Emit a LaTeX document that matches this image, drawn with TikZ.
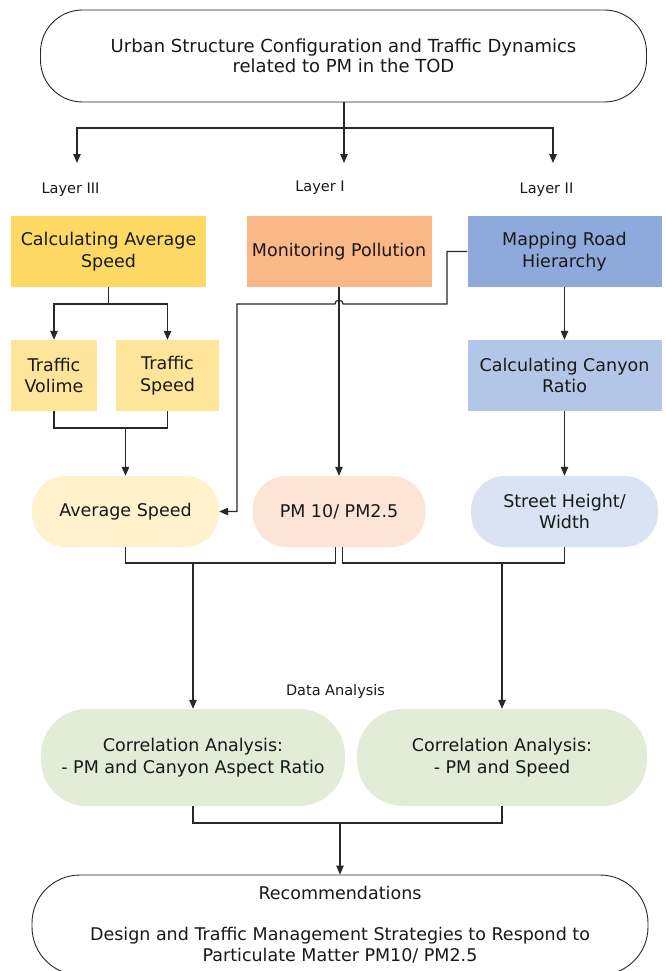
\documentclass[tikz,border=0pt]{standalone}
\usepackage{fontspec}
\setmainfont{DejaVu Sans}
\usetikzlibrary{arrows.meta,calc}
\definecolor{lineC}{RGB}{40,40,40}
\definecolor{txtC}{RGB}{25,25,25}
\definecolor{goldA}{RGB}{255,217,102}
\definecolor{goldB}{RGB}{255,229,153}
\definecolor{goldC}{RGB}{255,242,204}
\definecolor{orA}{RGB}{250,183,135}
\definecolor{orC}{RGB}{252,228,214}
\definecolor{blA}{RGB}{142,169,219}
\definecolor{blB}{RGB}{180,198,231}
\definecolor{blC}{RGB}{218,227,243}
\definecolor{grC}{RGB}{226,236,214}
\tikzset{
  box/.style={rectangle, align=center, inner sep=0pt, text=txtC,
    font=\fontsize{17.5}{21.5}\selectfont},
  rbox/.style={box, draw=none},
  pill/.style={box, draw=none, rounded corners=34pt},
  bigpill/.style={box, draw=lineC, line width=0.9pt, fill=white},
  lbl/.style={text=txtC, font=\fontsize{14.5}{17}\selectfont, inner sep=0pt},
  ln/.style={draw=lineC, line width=1.2pt},
  arr/.style={ln, -{Triangle[length=9pt,width=7.5pt]}}
}
\begin{document}
\begin{tikzpicture}[x=1pt,y=-1pt]
\useasboundingbox (0,0) rectangle (666,971);

% top
\node[bigpill, rounded corners=42pt, minimum width=606pt, minimum height=92pt,
  font=\fontsize{18}{20}\selectfont] (top) at (343.5,56)
  {Urban Structure Configuration and Traffic Dynamics\\related to PM in the TOD};
\coordinate (tj) at (344,128);
\coordinate (t3) at (77,163);
\coordinate (t1) at (344,163);
\coordinate (t2) at (553,163);
\draw[ln] (top.south -| tj) -- (tj);
\draw[arr] (tj) -| (t3);
\draw[arr] (tj) -- (t1);
\draw[arr] (tj) -| (t2);

\node[lbl] (l3) at (70.5,190) {Layer III};
\node[lbl] (l1) at (320,188) {Layer I};
\node[lbl] (l2) at (546.5,190) {Layer II};

% row 1
\node[rbox, fill=goldA, minimum width=195pt, minimum height=71pt] (calc) at (108.5,251.5) {Calculating Average\\Speed};
\node[rbox, fill=orA, minimum width=185pt, minimum height=71pt] (mon) at (339,251.5) {Monitoring Pollution};
\node[rbox, fill=blA, minimum width=194pt, minimum height=71pt] (map) at (564.5,251.5) {Mapping Road\\Hierarchy};

% row 2
\node[rbox, fill=goldB, minimum width=86pt, minimum height=71pt] (tv) at (54,375.5) {Traffic\\Volime};
\node[rbox, fill=goldB, minimum width=103pt, minimum height=71pt] (ts) at (167.5,375.5) {Traffic\\Speed};
\node[rbox, fill=blB, minimum width=194pt, minimum height=71pt] (can) at (564.5,375.5) {Calculating Canyon\\Ratio};

% row 3
\node[pill, fill=goldC, minimum width=187pt, minimum height=71pt] (avg) at (125.5,511.5) {Average Speed};
\node[pill, fill=orC, minimum width=173pt, minimum height=71pt] (pm) at (339,511.5) {PM 10/ PM2.5};
\node[pill, fill=blC, minimum width=187pt, minimum height=71pt] (st) at (564.5,511.5) {Street Height/\\Width};

% row 4
\node[pill, rounded corners=46pt, fill=grC, minimum width=304pt, minimum height=97pt] (gl) at (193,757.5)
  {Correlation Analysis:\\- PM and Canyon Aspect Ratio};
\node[pill, rounded corners=46pt, fill=grC, minimum width=290pt, minimum height=97pt] (gr) at (502,757.5)
  {Correlation Analysis:\\- PM and Speed};

\node[lbl] (da) at (335.5,691) {Data Analysis};

% bottom
\node[bigpill, rounded corners=48pt, minimum width=616pt, minimum height=100pt] (rec) at (340,925)
  {Recommendations\\[19pt]Design and Traffic Management Strategies to Respond to\\Particulate Matter PM10/ PM2.5};

% connectors layer III
\coordinate (j1) at (108.5,304);
\draw[ln] (calc.south) -- (j1);
\draw[arr] (j1) -| (tv.north);
\draw[arr] (j1) -| (ts.north);
\coordinate (j2) at (125.5,428);
\draw[ln] (tv.south) |- (j2) -| (ts.south);
\draw[arr] (j2) -- (avg.north);

% layer I
\draw[arr] (mon.south) -- (pm.north);

% layer II
\draw[arr] (map.south) -- (can.north);
\draw[arr] (can.south) -- (st.north);

% mapping -> average speed (with jump)
\coordinate (m1) at (447,251.5);
\coordinate (m2) at (447,304);
\coordinate (m3) at (237,304);
\draw[arr] (map.west) -- (m1) -- (m2) -- (343,304) arc[start angle=0,end angle=180,radius=4pt]
  -- (m3) |- (avg.east);

% merges to data analysis
\coordinate (pmL) at ($(pm.south)+(-3.5,0)$);
\coordinate (pmR) at ($(pm.south)+(3.5,0)$);
\coordinate (jL) at (193,563);
\coordinate (jR) at (502,563);
\draw[ln] (avg.south) |- (jL) -| (pmL);
\draw[ln] (pmR) |- (jR) -| (st.south);
\draw[arr] (jL) -- (gl.north);
\draw[arr] (jR) -- (gr.north);

% merge to recommendations
\coordinate (jB) at (340,823);
\draw[ln] (gl.south) |- (jB) -| (gr.south);
\draw[arr] (jB) -- (rec.north);
\end{tikzpicture}
\end{document}
